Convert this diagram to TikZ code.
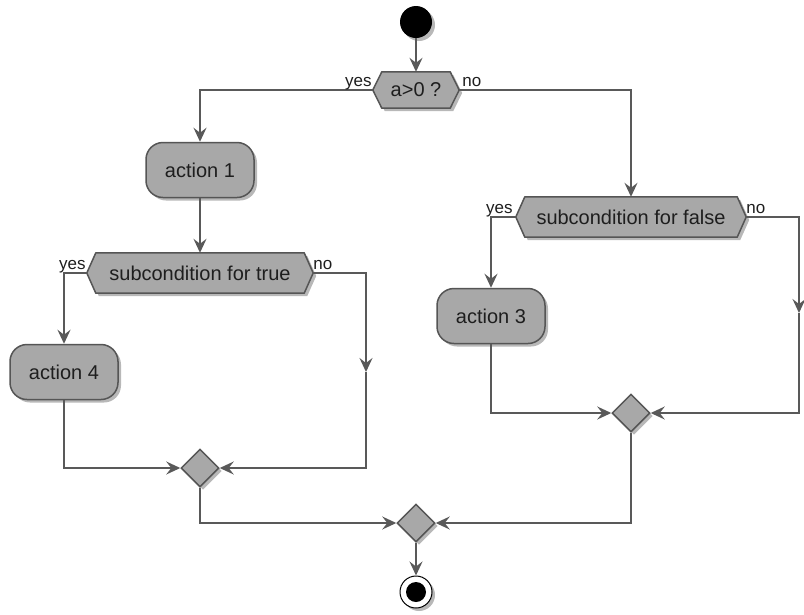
\documentclass[tikz,border=0pt]{standalone}
\usepackage{fontspec}
\setmainfont{Liberation Sans}
\usetikzlibrary{arrows.meta,shadows,shapes.geometric,calc}
\pgfdeclarelayer{bg}
\pgfsetlayers{bg,main}
\definecolor{fillg}{HTML}{A8A8A8}
\definecolor{edgeg}{HTML}{555555}
\definecolor{lineg}{HTML}{595959}
\definecolor{txt}{HTML}{1E1E1E}
\newcommand\hexshape[2]{%
  \path[hexdraw] (#1.west) -- ([xshift=#2]#1.north west) -- ([xshift=-#2]#1.north east)
    -- (#1.east) -- ([xshift=-#2]#1.south east) -- ([xshift=#2]#1.south west) -- cycle;}
\begin{document}
\begin{tikzpicture}[x=1pt,y=-1pt,
  shad/.style={drop shadow={shadow xshift=3pt,shadow yshift=-3pt,opacity=0.28,fill=black}},
  actbox/.style={draw=edgeg,fill=fillg,line width=1.5pt,rounded corners=17pt,
    minimum width=108pt,minimum height=55pt,inner sep=0pt,
    font=\fontsize{20}{24}\selectfont,text=txt,shad},
  hexnode/.style={inner sep=0pt,font=\fontsize{20}{24}\selectfont,text=txt},
  hexdraw/.style={draw=edgeg,fill=fillg,line width=1.5pt,line join=round,shad},
  merge/.style={diamond,aspect=1,draw=edgeg,fill=fillg,line width=1.5pt,
    minimum size=38pt,inner sep=0pt,shad},
  flow/.style={draw=lineg,line width=1.6pt,-{Stealth[length=14pt,width=13pt,inset=5pt]}},
  lbl/.style={font=\fontsize{17}{19}\selectfont,text=txt,inner sep=0pt}
]
\useasboundingbox (0,0) rectangle (804,614);
\begin{pgfonlayer}{bg}
\fill[white] (0,0) rectangle (804,614);
\end{pgfonlayer}

% nodes
\node[circle,fill=black,minimum size=32pt,inner sep=0pt,shad] (start) at (416,22) {};
\node[hexnode,minimum width=86pt,minimum height=36pt] (c0) at (416,90) {a>0 ?};
\node[actbox] (a1) at (200,170) {action 1};
\node[hexnode,minimum width=226pt,minimum height=40pt] (st) at (200,273) {subcondition for true};
\node[actbox] (a4) at (64,372) {action 4};
\node[merge] (d1) at (200,468) {};
\node[hexnode,minimum width=230pt,minimum height=40pt] (sf) at (631,217) {subcondition for false};
\node[actbox] (a3) at (491,316) {action 3};
\node[merge] (d2) at (631,413) {};
\node[merge] (df) at (416,523) {};
\node[circle,draw=black,fill=white,line width=1pt,minimum size=32pt,inner sep=0pt,shad] (end) at (416,592) {};
\node[circle,fill=black,minimum size=20pt,inner sep=0pt] (enddot) at (end) {};

\begin{pgfonlayer}{bg}
  \hexshape{c0}{9pt}
  \hexshape{st}{9pt}
  \hexshape{sf}{9pt}
\end{pgfonlayer}

\coordinate (m1) at (366,372);
\coordinate (m2) at (799,313);

% connectors
\draw[flow] (start) -- (c0.north);
\draw[flow] (c0.west) -| (a1.north);
\draw[flow] (c0.east) -| (sf.north);
\draw[flow] (a1.south) -- (st.north);
\draw[flow] (st.west) -| (a4.north);
\draw[flow] (st.east) -| (m1);
\draw[flow] (m1) |- (d1.east);
\draw[flow] (a4.south) |- (d1.west);
\draw[flow] (sf.west) -| (a3.north);
\draw[flow] (sf.east) -| (m2);
\draw[flow] (m2) |- (d2.east);
\draw[flow] (a3.south) |- (d2.west);
\draw[flow] (d1.south) |- (df.west);
\draw[flow] (d2.south) |- (df.east);
\draw[flow] (df.south) -- (end.north);

% labels
\node[lbl,anchor=base east] (l1) at ([xshift=-1pt,yshift=4pt]c0.west) {yes};
\node[lbl,anchor=base west] (l2) at ([xshift=3pt,yshift=4pt]c0.east) {no};
\node[lbl,anchor=base east] (l3) at ([xshift=-1pt,yshift=4pt]st.west) {yes};
\node[lbl,anchor=base west] (l4) at ([xshift=0pt,yshift=4pt]st.east) {no};
\node[lbl,anchor=base east] (l5) at ([xshift=-3pt,yshift=4pt]sf.west) {yes};
\node[lbl,anchor=base west] (l6) at ([xshift=0pt,yshift=4pt]sf.east) {no};
\end{tikzpicture}
\end{document}
